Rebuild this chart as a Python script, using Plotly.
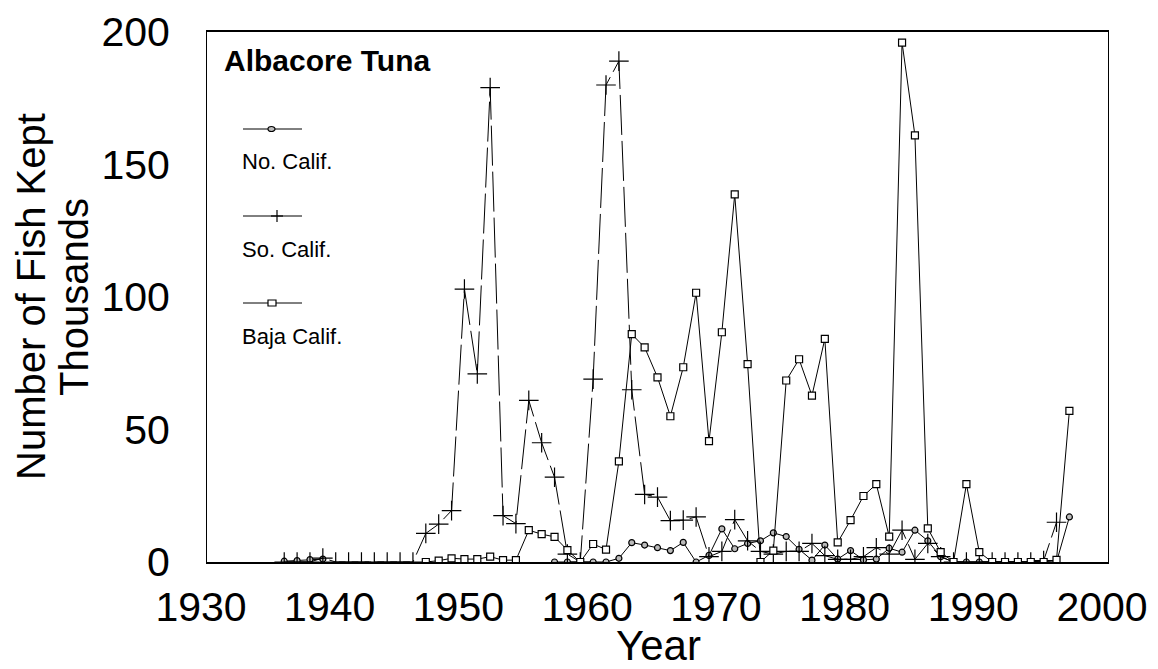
import plotly.graph_objects as go

years = list(range(1936, 1998))

# thousands of fish kept, one value per year 1936-1997 (None = no record)
no_calif = [0.3, 0.5, 0.9, 1.1] + [None] * 17 + [
    0, 0, 0, 0, 0, 1.4, 7.3, 6.4, 5.4, 4.3,
    7.4, 0, 2.5, 12.5, 5, 7, 8, 11, 9.6, 4.8,
    0.7, 6.4, 1.1, 4.3, 0.8, 1.1, 5.2, 3.7, 12, 8,
    2, 0, 0, 0, 0, 0, 0, 0, 0, 0, 17,
]
so_calif = [
    0, 0, 0, 1.5, 0, 0, 0, 0, 0, 0,
    0, 10.8, 14.3, 19.4, 103, 71, 179, 17.5, 14.5, 61,
    45, 32, 3, 0, 69, 180, 189, 65, 25.5, 24.5,
    15.6, 15.8, 17, 2, 4, 16, 8, 4, 3, 4,
    4, 7, 2.4, 1, 1, 2, 5.4, 3, 12, 1,
    7, 2, 0, 0, 0, 0, 0, 0, 0, 0.5, 15,
]
baja_calif = [None] * 11 + [
    0, 0.5, 1.4, 1.1, 1.1, 2, 0.7, 0.7, 12, 10.5,
    9.5, 4.5, 0, 6.8, 4.7, 38, 86, 81, 69.7, 55,
    73.5, 101.6, 45.6, 86.7, 138.7, 74.7, 0, 4.3, 68.5, 76.5,
    62.8, 84.2, 7.4, 15.8, 24.9, 29.4, 9.6, 196, 161, 12.7,
    3.7, 0, 29.4, 3.7, 0, 0, 0, 0, 0, 0.8, 57,
]

series_names = ["No. Calif.", "So. Calif.", "Baja Calif."]
x_ticks = [1930, 1940, 1950, 1960, 1970, 1980, 1990, 2000]
y_ticks = [0, 50, 100, 150, 200]
y_title_lines = ["Number of Fish Kept", "Thousands"]

FONT = "Arial, Liberation Sans, sans-serif"
# page body has an 8px margin, so the figure is a bit smaller than the window
W, H = 1150, 661
OFF = 8
# plot box in window pixels: x 207..1108, y 32..562
L, T = 207 - OFF, 32 - OFF
R, B = W - (1108 - OFF), H - (562 - OFF)
PW, PH = W - L - R, H - T - B


def px_x(p):
    return (p - OFF - L) / PW


def px_y(p):
    return (H - B - (p - OFF)) / PH


fig = go.Figure()
fig.add_trace(go.Scatter(
    x=years, y=no_calif, mode="lines+markers", name=series_names[0],
    line=dict(color="black", width=1),
    marker=dict(symbol="circle", size=6, color="#bbbbbb", line=dict(color="black", width=1.2)),
))
fig.add_trace(go.Scatter(
    x=years, y=so_calif, mode="lines+markers", name=series_names[1],
    line=dict(color="black", width=1, dash="40px,6px"),
    marker=dict(symbol="cross-thin", size=14, line=dict(color="black", width=1.2)),
))
fig.add_trace(go.Scatter(
    x=years, y=baja_calif, mode="lines+markers", name=series_names[2],
    line=dict(color="black", width=1),
    marker=dict(symbol="square", size=7, color="white", line=dict(color="black", width=1.2)),
))

# hand-made legend: sample line above each label
shapes = []
annotations = []
for i, name in enumerate(series_names):
    ly = 129 + i * 87
    shapes.append(dict(type="line", xref="paper", yref="paper", x0=px_x(243), x1=px_x(302),
                       y0=px_y(ly), y1=px_y(ly), line=dict(color="black", width=1)))
    if i == 0:
        shapes.append(dict(type="circle", xref="paper", yref="paper", x0=px_x(268), x1=px_x(275),
                           y0=px_y(ly + 2.5), y1=px_y(ly - 2.5), fillcolor="#bbbbbb",
                           line=dict(color="black", width=1.2)))
    elif i == 1:
        shapes.append(dict(type="line", xref="paper", yref="paper", x0=px_x(271), x1=px_x(283),
                           y0=px_y(ly), y1=px_y(ly), line=dict(color="black", width=1.2)))
        shapes.append(dict(type="line", xref="paper", yref="paper", x0=px_x(277), x1=px_x(277),
                           y0=px_y(ly - 6), y1=px_y(ly + 6), line=dict(color="black", width=1.2)))
    else:
        shapes.append(dict(type="rect", xref="paper", yref="paper", x0=px_x(268), x1=px_x(276),
                           y0=px_y(ly + 3), y1=px_y(ly - 3), fillcolor="white",
                           line=dict(color="black", width=1.2)))
    annotations.append(dict(text=name, xref="paper", yref="paper", x=px_x(240), y=px_y(ly + 33),
                            xanchor="left", yanchor="middle", showarrow=False,
                            font=dict(family=FONT, size=22, color="black")))

annotations.append(dict(text="<b>Albacore Tuna</b>", xref="paper", yref="paper", x=px_x(222), y=px_y(61),
                        xanchor="left", yanchor="middle", showarrow=False,
                        font=dict(family=FONT, size=30, color="black")))
annotations.append(dict(text="Year", xref="paper", yref="paper", x=px_x(658), y=px_y(645),
                        xanchor="center", yanchor="middle", showarrow=False,
                        font=dict(family=FONT, size=42, color="black")))
# y title as two rotated lines, set close together like the original
for line_text, cx in zip(y_title_lines, [31, 74]):
    annotations.append(dict(text=line_text, xref="paper", yref="paper",
                            x=px_x(cx), y=px_y(297), xanchor="center", yanchor="middle", showarrow=False,
                            textangle=-90, font=dict(family=FONT, size=40, color="black")))

fig.update_layout(
    width=W, height=H,
    margin=dict(l=L, r=R, t=T, b=B, autoexpand=False),
    paper_bgcolor="white", plot_bgcolor="white",
    showlegend=False,
    shapes=shapes, annotations=annotations,
    font=dict(family=FONT, color="black"),
)
fig.update_xaxes(
    range=[1930, 2000], tickvals=x_ticks, ticktext=[str(v) for v in x_ticks],
    showgrid=False, zeroline=False, showline=True, linecolor="black", linewidth=1.5, mirror=True,
    ticks="outside", ticklen=8, tickcolor="rgba(0,0,0,0)", ticklabelshift=-6,
    tickfont=dict(family=FONT, size=41), automargin=False,
)
fig.update_yaxes(
    range=[0, 200], tickvals=y_ticks, ticktext=[str(v) for v in y_ticks],
    showgrid=False, zeroline=False, showline=True, linecolor="black", linewidth=1, mirror=True,
    ticks="outside", ticklen=28, tickcolor="rgba(0,0,0,0)",
    tickfont=dict(family=FONT, size=41), automargin=False,
)

fig.write_html("out.html")
